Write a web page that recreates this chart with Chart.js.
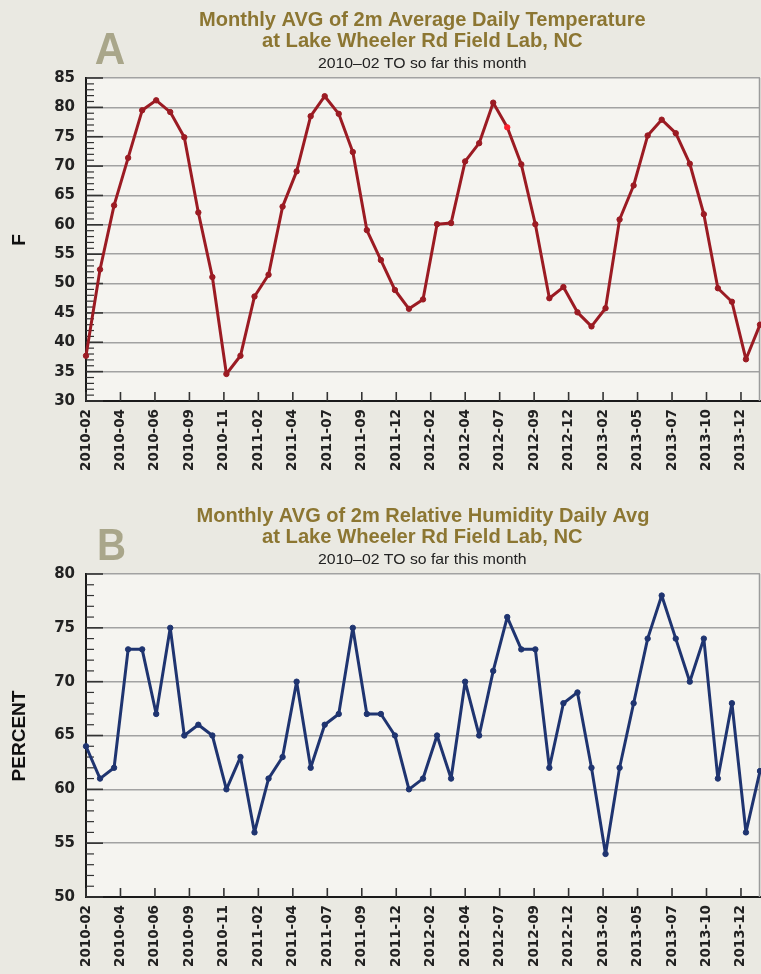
<!DOCTYPE html>
<html><head><meta charset="utf-8">
<script src="https://cdn.jsdelivr.net/npm/chart.js@4.4.1/dist/chart.umd.min.js"></script>
<style>
html,body{margin:0;padding:0;background:#eae9e2;overflow:hidden;width:761px;height:974px}
.wrap{position:absolute;left:0;width:761px}
canvas{display:block}
</style></head><body>
<div class="wrap" style="top:0;height:496px"><canvas id="c1"></canvas></div>
<div class="wrap" style="top:496px;height:478px"><canvas id="c2"></canvas></div>
<script>
// ---------- data ----------
const months = ['2010-02','2010-03','2010-04','2010-05','2010-06','2010-07','2010-08','2010-09','2010-10','2010-11','2010-12',
 '2011-01','2011-02','2011-03','2011-04','2011-05','2011-06','2011-07','2011-08','2011-09','2011-10','2011-11','2011-12',
 '2012-01','2012-02','2012-03','2012-04','2012-05','2012-06','2012-07','2012-08','2012-09','2012-10','2012-11','2012-12',
 '2013-01','2013-02','2013-03','2013-04','2013-05','2013-06','2013-07','2013-08','2013-09','2013-10','2013-11','2013-12',
 '2014-01','2014-02'];
const tempValues = [37.7, 52.4, 63.3, 71.4, 79.5, 81.2, 79.2, 74.9, 62.1, 51.1,
 34.6, 37.7, 47.8, 51.5, 63.1, 69.1, 78.5, 81.9, 78.9, 72.4,
 59.1, 54.0, 48.9, 45.7, 47.3, 60.1, 60.3, 70.8, 73.9, 80.8,
 76.6, 70.3, 60.1, 47.5, 49.4, 45.1, 42.7, 45.8, 60.9, 66.7,
 75.2, 77.9, 75.6, 70.4, 61.8, 49.2, 46.9, 37.1, 43.0];
const humidityValues = [64, 61, 62, 73, 73, 67, 75, 65, 66, 65,
 60, 63, 56, 61, 63, 70, 62, 66, 67, 75,
 67, 67, 65, 60, 61, 65, 61, 70, 65, 71,
 76, 73, 73, 62, 68, 69, 62, 54, 62, 68,
 74, 78, 74, 70, 74, 61, 68, 56, 61.7];
const tickLabels = ['2010-02','2010-04','2010-06','2010-09','2010-11','2011-02','2011-04','2011-07','2011-09','2011-12',
 '2012-02','2012-04','2012-07','2012-09','2012-12','2013-02','2013-05','2013-07','2013-10','2013-12'];
const tempHighlight = 30;           // month drawn in bright red
const tempTitle = ['Monthly AVG of 2m Average Daily Temperature', 'at Lake Wheeler Rd Field Lab, NC', '2010\u201302 TO so far this month'];
const humTitle  = ['Monthly AVG of 2m Relative Humidity Daily Avg', 'at Lake Wheeler Rd Field Lab, NC', '2010\u201302 TO so far this month'];
const TICK_STEP = 2.455;            // months between x ticks

// ---------- helpers ----------
function drawFit(ctx, text, font, color, x, base, w, align) {
  ctx.save();
  ctx.font = font; ctx.fillStyle = color; ctx.textAlign = align || 'center'; ctx.textBaseline = 'alphabetic';
  const m = ctx.measureText(text).width;
  ctx.translate(x, base); ctx.scale(w / m, 1);
  ctx.fillText(text, 0, 0);
  ctx.restore();
}

const decor = {
  id: 'decor',
  beforeDraw(chart, args, o) {
    const {ctx, chartArea: a} = chart;
    ctx.save();
    ctx.fillStyle = '#f5f4f0';
    ctx.fillRect(a.left, a.top, a.right - a.left, a.bottom - a.top);
    ctx.restore();
    const gold = '#8c7632';
    drawFit(ctx, o.lines[0], 'bold 21px "Liberation Sans"', gold, o.cx, 26, o.w1);
    drawFit(ctx, o.lines[1], 'bold 21px "Liberation Sans"', gold, 422.3, 47.3, 320.5);
    drawFit(ctx, o.lines[2], '14.5px "Liberation Sans"', '#222', 422.3, 67.7, 208.7);
    drawFit(ctx, o.letter, 'bold 45px "Liberation Sans"', '#a9a68a', o.lx, 64, o.lw, 'left');
    ctx.save();
    ctx.font = 'bold 19px "Liberation Sans"'; ctx.fillStyle = '#111';
    ctx.textAlign = 'center'; ctx.textBaseline = 'alphabetic';
    ctx.translate(25, 240); ctx.rotate(-Math.PI / 2);
    ctx.fillText(o.axisTitle, 0, 0);
    ctx.restore();
  },
  beforeDatasetsDraw(chart) {
    const {ctx, chartArea: a, scales: {x, y}} = chart;
    ctx.save();
    ctx.strokeStyle = '#9c9c9c'; ctx.lineWidth = 1.5;
    ctx.beginPath(); ctx.moveTo(a.right - 0.5, a.top); ctx.lineTo(a.right - 0.5, a.bottom); ctx.stroke();
    ctx.strokeStyle = '#333';
    for (let v = y.min; v <= y.max; v++) {
      const py = y.getPixelForValue(v);
      const major = v % 5 === 0;
      ctx.lineWidth = major ? 1.6 : 1.2;
      ctx.beginPath(); ctx.moveTo(a.left, py); ctx.lineTo(a.left + (major ? 17 : 8), py); ctx.stroke();
    }
    ctx.lineWidth = 1.6;
    x.ticks.forEach(t => {
      const px = x.getPixelForValue(t.value);
      ctx.beginPath(); ctx.moveTo(px, a.bottom); ctx.lineTo(px, a.bottom - 9); ctx.stroke();
    });
    ctx.restore();
  }
};

function makeChart(id, H, values, color, yMin, yMax, pointColors, opts) {
  const cv = document.getElementById(id);
  cv.width = 761; cv.height = H;
  return new Chart(cv, {
    type: 'line',
    data: {
      labels: months,
      datasets: [{
        data: values.map((v, i) => ({x: i, y: v})),
        borderColor: color, borderWidth: 3, borderJoinStyle: 'round', borderCapStyle: 'round',
        pointRadius: 2.7, pointHoverRadius: 2.7, pointBorderWidth: 1,
        pointBackgroundColor: pointColors, pointBorderColor: pointColors,
        tension: 0, clip: false
      }]
    },
    options: {
      responsive: false, animation: false, devicePixelRatio: 1,
      layout: {autoPadding: false, padding: {top: 78, right: 1, left: 0, bottom: 0}},
      plugins: {legend: {display: false}, tooltip: {enabled: false}, title: {display: false}, decor: opts},
      scales: {
        x: {
          type: 'linear', min: 0, max: months.length - 1,
          afterBuildTicks: s => { s.ticks = tickLabels.map((_, k) => ({value: k * TICK_STEP})); },
          afterFit: s => { s.height = H - 401; s.paddingLeft = 0; s.paddingRight = 0; },
          grid: {display: false, drawTicks: false},
          border: {display: true, color: '#1a1a1a', width: 2},
          ticks: {autoSkip: false, minRotation: 90, maxRotation: 90, padding: 8, color: '#222',
                  font: {family: 'DejaVu Sans', size: 13.5, weight: 'bold'},
                  callback: (v, i) => tickLabels[i]}
        },
        y: {
          min: yMin, max: yMax,
          afterFit: s => { s.width = 86; s.paddingTop = 0; s.paddingBottom = 0; },
          grid: {color: '#a2a2a2', lineWidth: 1.5, drawTicks: false},
          border: {display: true, color: '#1a1a1a', width: 2},
          ticks: {stepSize: 5, padding: 11, color: '#222',
                  font: {family: 'DejaVu Sans', size: 15, weight: 'bold'}}
        }
      }
    },
    plugins: [decor]
  });
}

const tempRed = '#9b1b23';
const tempPointColors = tempValues.map((_, i) => i === tempHighlight ? '#ff1f2d' : tempRed);
makeChart('c1', 496, tempValues, tempRed, 30, 85, tempPointColors,
  {lines: tempTitle, letter: 'A', axisTitle: 'F', cx: 422.3, w1: 446.6, lx: 94.7, lw: 30.5});
const humBlue = '#1f3470';
makeChart('c2', 478, humidityValues, humBlue, 50, 80, humBlue,
  {lines: humTitle, letter: 'B', axisTitle: 'PERCENT', cx: 423, w1: 453, lx: 97, lw: 29});
</script>
</body></html>
